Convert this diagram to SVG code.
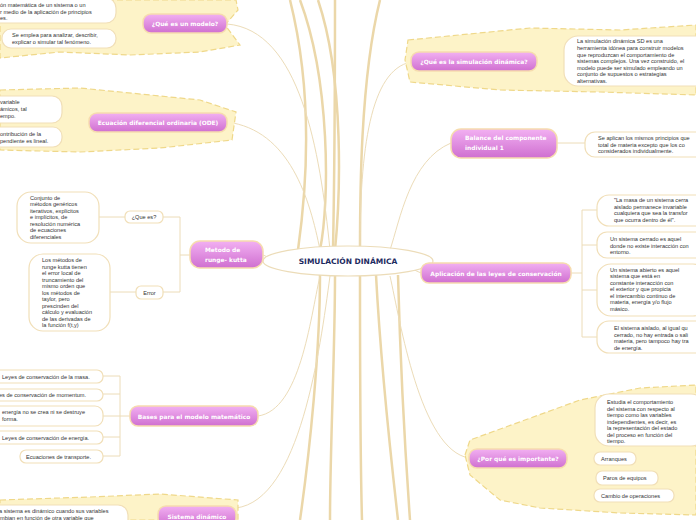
<svg xmlns="http://www.w3.org/2000/svg" width="696" height="520" viewBox="0 0 696 520">
<defs>
<linearGradient id="pk" x1="0" y1="0" x2="0" y2="1"><stop offset="0" stop-color="#f2b0f2"/><stop offset="1" stop-color="#cf6fd0"/></linearGradient>
<style>
.cloud{fill:#fdf3c8;stroke:#efd88a;stroke-width:1.2;stroke-dasharray:6 3}
.pill{fill:url(#pk);stroke:#f6dcae;stroke-width:1.5}
.pt{font-family:"DejaVu Sans",sans-serif;font-size:5.9px;fill:#fff;font-weight:bold}
.bx{fill:#fff;stroke:#f1dfb8;stroke-width:1.2}
.t{font-family:"Liberation Sans",Arial,sans-serif;font-size:5.6px;fill:#333}
.ln{fill:none;stroke:#ecdcb8;stroke-width:1}
.tr{fill:none;stroke:#ebd7a9;stroke-width:2.5}
</style>
</defs>
<g id="connectors">
<path class="tr" d="M300 0 C330 80 330 200 320 250"/>
<path class="tr" d="M318 0 C345 80 340 200 335 250"/>
<path class="tr" d="M335 0 C335 100 334 200 333 250"/>
<path class="tr" d="M380 0 C360 80 360 200 360 250"/>
<path class="tr" d="M320 275 C320 350 310 450 300 520"/>
<path class="tr" d="M335 276 C335 350 330 450 330 520"/>
<path class="tr" d="M360 276 C360 350 360 450 362 520"/>
<path class="tr" d="M376 275 C380 350 390 450 398 520"/>
<path class="tr" d="M398 275 C400 350 405 450 410 520"/>
<path class="tr" d="M290 0 C315 100 305 200 298 250"/>
<path class="ln" d="M227 24 C300 30 320 150 330 250"/>
<path class="ln" d="M227 122 C290 130 310 200 320 250"/>
<path class="ln" d="M411 62 C370 70 360 150 360 250"/>
<path class="ln" d="M451 143 C410 160 400 220 390 250"/>
<path class="ln" d="M263 255 L270 258"/>
<path class="ln" d="M421 273 L410 268"/>
<path class="ln" d="M258 416 C300 410 310 320 320 276"/>
<path class="ln" d="M236 508 C300 500 320 350 330 276"/>
<path class="ln" d="M469 458 C420 450 400 320 390 276"/>
<path class="ln" d="M116 16 H125 V24 H143 M116 38 H125 V24"/>
<path class="ln" d="M62 109 H78 V122 H89 M62 137 H78 V122"/>
<path class="ln" d="M537 62 H564"/>
<path class="ln" d="M557 143 H585"/>
<path class="ln" d="M190 255 H180 V217 H163 M180 255 V292 H163 M125 217 H99 M136 292 H110"/>
<path class="ln" d="M571 273 H582 M582 210 V337 M582 210 H597 M582 245 H597 M582 290 H597 M582 337 H597"/>
<path class="ln" d="M130 416 H120 M120 376 V456 M103 376 H120 M103 394 H120 M103 416 H120 M103 437 H120 M103 456 H120"/>
<path class="ln" d="M567 458 H580 M580 420 V495 M580 420 H595 M580 458 H594 M580 478 H596 M580 495 H594"/>
<path class="ln" d="M128 512 H158"/>
</g>
<g id="clouds">
<path class="cloud" d="M0 0 H236 L238 10 L225 25 L240 45 L200 52 L130 55 L60 52 L0 58 Z"/>
<path class="cloud" d="M0 90 L80 88 L200 100 L236 112 L232 140 L160 148 L80 152 L0 150 Z"/>
<path class="cloud" d="M408 40 L530 28 L620 30 L696 25 V95 L600 92 L500 90 L410 82 L405 60 Z"/>
<path class="cloud" d="M0 500 L90 497 L160 494 L238 500 L238 520 H0 Z"/>
<path class="cloud" d="M465 455 L470 440 L580 400 L640 388 L696 385 V515 L620 513 L540 508 L500 500 L470 475 Z"/>
</g>
<g id="center">
<ellipse cx="348" cy="261" rx="85" ry="15" fill="#fff" stroke="#ecdcb8" stroke-width="1.2"/>
<text x="348" y="263.5" text-anchor="middle" font-family="DejaVu Sans,sans-serif" font-size="7.5" fill="#1c2a60" font-weight="bold">SIMULACIÓN DINÁMICA</text>
</g>
<g id="n-modelo">
<rect class="pill" x="143" y="14" width="84" height="19" rx="8"/>
<text class="pt" x="185" y="26" text-anchor="middle">¿Qué es un modelo?</text>
<rect class="bx" x="-20" y="-2" width="136" height="25" rx="10"/>
<text class="t" x="0" y="7">ón matemática de un sistema o un</text>
<text class="t" x="0" y="13.5">r medio de la aplicación de principios</text>
<text class="t" x="0" y="20">es.</text>
<rect class="bx" x="2" y="29" width="114" height="19" rx="9"/>
<text class="t" x="12" y="37">Se emplea para analizar, describir,</text>
<text class="t" x="12" y="44">explicar o simular tal fenómeno.</text>
</g>
<g id="n-ode">
<rect class="pill" x="89" y="113" width="138" height="19" rx="8"/>
<text class="pt" x="158" y="125" text-anchor="middle">Ecuación diferencial ordinaria (ODE)</text>
<rect class="bx" x="-20" y="96" width="82" height="27" rx="10"/>
<text class="t" x="0" y="104">variable</text>
<text class="t" x="0" y="111">ámicos, tal</text>
<text class="t" x="0" y="118">empo.</text>
<rect class="bx" x="-20" y="127" width="82" height="20" rx="9"/>
<text class="t" x="0" y="136">ontribución de la</text>
<text class="t" x="0" y="143">pendiente es lineal.</text>
</g>
<g id="n-simulacion">
<rect class="pill" x="411" y="52" width="126" height="19" rx="8"/>
<text class="pt" x="474" y="64" text-anchor="middle">¿Qué es la simulación dinámica?</text>
<rect class="bx" x="564" y="36" width="150" height="50" rx="14"/>
<g class="t"><text x="577" y="43">La simulación dinámica SD es una</text>
<text x="577" y="50">herramienta idónea para construir modelos</text>
<text x="577" y="56.5">que reproduzcan el comportamiento de</text>
<text x="577" y="63">sistemas complejos. Una vez construido, el</text>
<text x="577" y="69.5">modelo puede ser simulado empleando un</text>
<text x="577" y="76">conjunto de supuestos o estrategias</text>
<text x="577" y="82.5">alternativas.</text></g>
</g>
<g id="n-balance">
<rect class="pill" x="451" y="129" width="106" height="29" rx="10"/>
<text class="pt" x="465" y="140">Balance del componente</text>
<text class="pt" x="465" y="150">individual 1</text>
<rect class="bx" x="585" y="132" width="130" height="25" rx="10"/>
<g class="t"><text x="598" y="140">Se aplican los mismos principios que</text>
<text x="598" y="146.5">total de materia excepto que los co</text>
<text x="598" y="153">considerados individualmente.</text></g>
</g>
<g id="n-runge">
<rect class="pill" x="190" y="241" width="73" height="27" rx="10"/>
<text class="pt" x="205" y="252">Metodo de</text>
<text class="pt" x="205" y="262">runge- kutta</text>
<rect class="bx" x="125" y="211" width="38" height="12" rx="5"/>
<text class="t" x="144" y="219" text-anchor="middle">¿Que es?</text>
<rect class="bx" x="136" y="286" width="27" height="13" rx="5"/>
<text class="t" x="149.5" y="294.5" text-anchor="middle">Error</text>
<rect class="bx" x="17" y="192" width="82" height="51" rx="14"/>
<g class="t"><text x="30" y="199.5">Conjunto de</text><text x="30" y="206">métodos genéricos</text><text x="30" y="212.5">iterativos, explícitos</text><text x="30" y="219">e implícitos, de</text><text x="30" y="225.5">resolución numérica</text><text x="30" y="232">de ecuaciones</text><text x="30" y="238.5">diferenciales</text></g>
<rect class="bx" x="29" y="254" width="81" height="77" rx="14"/>
<g class="t"><text x="42" y="262">Los métodos de</text><text x="42" y="268.5">runge kutta tienen</text><text x="42" y="275">el error local de</text><text x="42" y="281.5">truncamiento del</text><text x="42" y="288">mismo orden que</text><text x="42" y="294.5">los métodos de</text><text x="42" y="301">taylor, pero</text><text x="42" y="307.5">prescinden del</text><text x="42" y="314">cálculo y evaluación</text><text x="42" y="320.5">de las derivadas de</text><text x="42" y="327">la función f(t,y)</text></g>
</g>
<g id="n-aplicacion">
<rect class="pill" x="421" y="263" width="150" height="20" rx="8"/>
<text class="pt" x="496" y="275.5" text-anchor="middle">Aplicación de las leyes de conservación</text>
<rect class="bx" x="597" y="195" width="120" height="31" rx="12"/>
<g class="t"><text x="614" y="202">"La masa de un sistema cerra</text><text x="614" y="208.5">aislado permanece invariable</text><text x="614" y="215">cualquiera que sea la transfor</text><text x="614" y="221.5">que ocurra dentro de él".</text></g>
<rect class="bx" x="597" y="232" width="120" height="26" rx="10"/>
<g class="t"><text x="610" y="241">Un sistema cerrado es aquel</text><text x="610" y="247.5">donde no existe interacción con</text><text x="610" y="254">entorno.</text></g>
<rect class="bx" x="597" y="264" width="110" height="52" rx="14"/>
<g class="t"><text x="610" y="271.5">Un sistema abierto es aquel</text><text x="610" y="278">sistema que está en</text><text x="610" y="284.5">constante interacción con</text><text x="610" y="291">el exterior y que propicia</text><text x="610" y="297.5">el intercambio continuo de</text><text x="610" y="304">materia, energía y/o flujo</text><text x="610" y="310.5">másico.</text></g>
<rect class="bx" x="597" y="321" width="120" height="32" rx="12"/>
<g class="t"><text x="614" y="330">El sistema aislado, al igual qu</text><text x="614" y="336.5">cerrado, no hay entrada o sali</text><text x="614" y="343">materia, pero tampoco hay tra</text><text x="614" y="349.5">de energía.</text></g>
</g>
<g id="n-bases">
<rect class="pill" x="130" y="406" width="128" height="20" rx="8"/>
<text class="pt" x="194" y="418.5" text-anchor="middle">Bases para el modelo matemático</text>
<rect class="bx" x="-20" y="370" width="123" height="13" rx="6"/>
<text class="t" x="2" y="378.5">Leyes de conservación de la masa.</text>
<rect class="bx" x="-20" y="389" width="123" height="12" rx="6"/>
<text class="t" x="-1" y="397">es de conservación de momentum.</text>
<rect class="bx" x="-20" y="406" width="123" height="20" rx="8"/>
<text class="t" x="2" y="414">energía no se crea ni se destruye</text>
<text class="t" x="2" y="421">forma.</text>
<rect class="bx" x="-20" y="431" width="123" height="13" rx="6"/>
<text class="t" x="2" y="439.5">Leyes de conservación de energía.</text>
<rect class="bx" x="20" y="450" width="83" height="13" rx="6"/>
<text class="t" x="26" y="458.5">Ecuaciones de transporte.</text>
</g>
<g id="n-sistema">
<rect class="pill" x="158" y="506" width="78" height="20" rx="8"/>
<text class="pt" x="197" y="519" text-anchor="middle">Sistema dinámico</text>
<rect class="bx" x="-20" y="505" width="148" height="25" rx="10"/>
<text class="t" x="-1" y="513">a sistema es dinámico cuando sus variables</text>
<text class="t" x="0" y="519.5">mbian en función de otra variable que</text>
</g>
<g id="n-importante">
<rect class="pill" x="469" y="449" width="98" height="19" rx="8"/>
<text class="pt" x="518" y="461" text-anchor="middle">¿Por qué es importante?</text>
<rect class="bx" x="595" y="394" width="110" height="52" rx="14"/>
<g class="t"><text x="607" y="404">Estudia el comportamiento</text><text x="607" y="410.5">del sistema con respecto al</text><text x="607" y="417">tiempo como las variables</text><text x="607" y="423.5">independientes, es decir, es</text><text x="607" y="430">la representación del estado</text><text x="607" y="436.5">del proceso en función del</text><text x="607" y="443">tiempo.</text></g>
<rect class="bx" x="594" y="452" width="42" height="13" rx="6"/>
<text class="t" x="601" y="460.5">Arranques</text>
<rect class="bx" x="596" y="471" width="62" height="14" rx="6"/>
<text class="t" x="603" y="480">Paros de equipos</text>
<rect class="bx" x="594" y="489" width="80" height="13" rx="6"/>
<text class="t" x="601" y="497.5">Cambio de operaciones</text>
</g>
</svg>
